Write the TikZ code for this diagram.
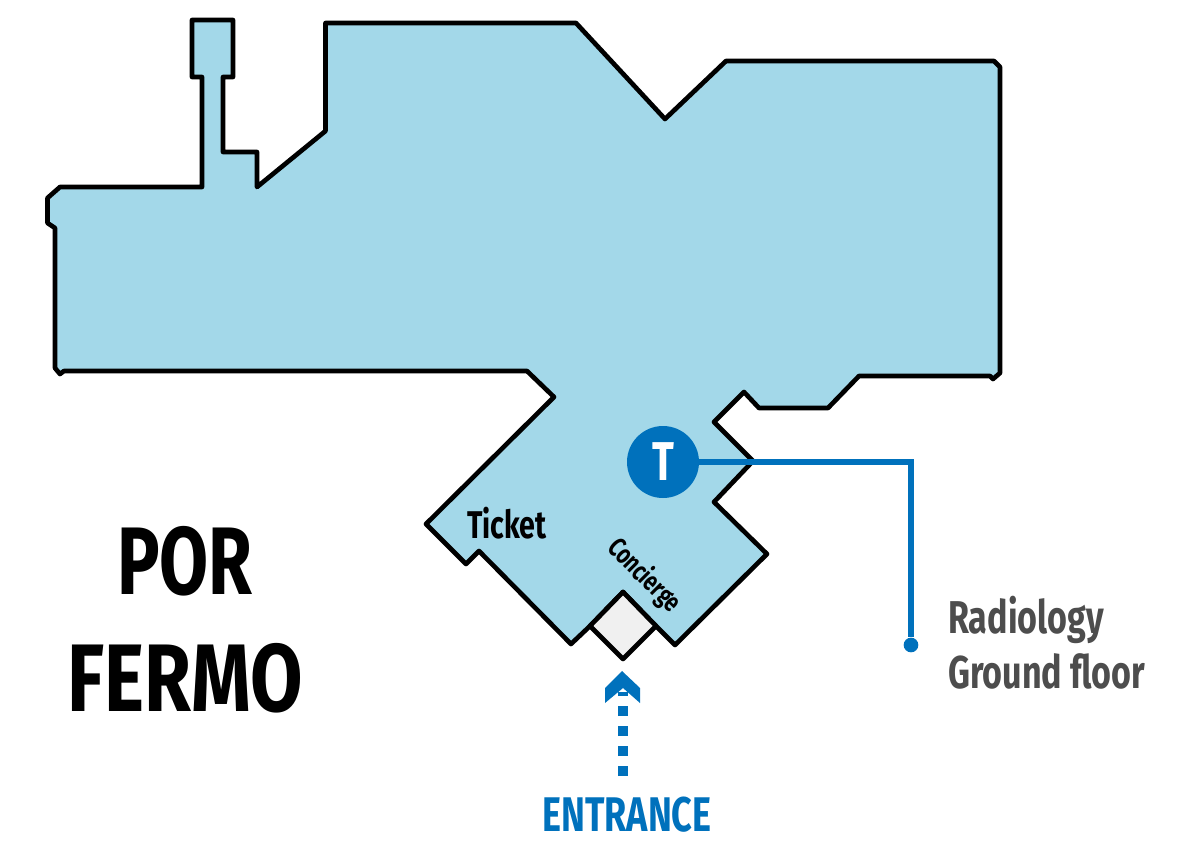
\documentclass[tikz,border=0pt]{standalone}
\usepackage{fontspec}
\setmainfont[FakeStretch=0.74]{Fira Sans}
\usetikzlibrary{positioning}
\definecolor{floorblue}{HTML}{A3D8E9}
\definecolor{markblue}{HTML}{0071BC}
\definecolor{doorgrey}{HTML}{F0F0F0}
\definecolor{notegrey}{HTML}{4D4D4D}
\tikzset{
	wall/.style={draw=black, line width=3.5pt, line join=round},
	leader/.style={draw=markblue, line width=3.8pt},
	bigtext/.style={inner sep=0, anchor=base, font=\bfseries\fontsize{72}{72}\selectfont},
	roomtext/.style={inner sep=0, anchor=base, font=\bfseries\fontsize{29}{29}\selectfont},
	notetext/.style={inner sep=0, anchor=base west, text=notegrey, font=\bfseries\fontsize{34.5}{34.5}\selectfont}
}

\begin{document}
\begin{tikzpicture}[x=0.75pt, y=-0.75pt]
		\useasboundingbox (0, 0) rectangle (1182, 851);
		\draw[wall, fill=floorblue]
		(192, 20) -- (233, 20) -- (233, 77) -- (223, 77) -- (223, 152) -- (257, 152) -- (257, 187)
		-- (325.5, 131) -- (325.5, 23) -- (576, 23) -- (665, 119) -- (726, 61) -- (994, 61) -- (1000, 67)
		-- (1000, 373) -- (993, 379) -- (990, 376) -- (859, 376) -- (828, 408) -- (759, 408)
		-- (744, 392) -- (714, 422) -- (753, 461) -- (714, 502) -- (767, 554) -- (675, 645)
		-- (656, 626) -- (623, 592) -- (590, 626) -- (571, 644) -- (479, 551) -- (466, 564)
		-- (426, 524) -- (554, 397) -- (527, 371) -- (64, 371) -- (60, 374) -- (55, 368)
		-- (55, 228) -- (47.5, 223) -- (47.5, 198) -- (60, 187) -- (202, 187) -- (202, 77) -- (192, 77) -- cycle;
		\draw[wall, fill=doorgrey] (623, 592) -- (656, 626) -- (623, 659) -- (590, 626) -- cycle;
		\node[circle, fill=markblue, minimum size=54pt, inner sep=0, text=white, font=\bfseries\fontsize{41}{41}\selectfont] (lift) at (663, 462) {T};
		\node[circle, fill=markblue, minimum size=11pt, inner sep=0] (radiology_dot) at (911, 645) {};
		\draw[leader] (lift) -| (radiology_dot);
		\node[roomtext] (ticket) at (507, 538) {Ticket};
		\node[inner sep=0, rotate=-45, font=\bfseries\fontsize{20.5}{20.5}\selectfont] (concierge) at (644, 576) {Concierge};
		\node[notetext] (radiology) at (948, 633) {Radiology};
		\node[notetext] (ground) at (948, 688) {Ground floor};
		\node[bigtext] (por) at (185, 594) {POR};
		\node[bigtext] (fermo) at (185, 711) {\scalebox{1.07}[1]{FERMO}};
		\node[inner sep=0, anchor=base, text=markblue, font=\bfseries\fontsize{36.5}{36.5}\selectfont] (entrance) at (627, 831) {ENTRANCE};
		\coordinate (walk_start) at (623, 776);
		\coordinate (walk_end) at (623, 692);
		\draw[markblue, line width=7.5pt, dash pattern=on 7.5pt off 7.5pt] (walk_start) -- (walk_end);
		\fill[markblue] (622, 671) -- (640, 688) -- (640, 703) -- (623, 688) -- (605, 703) -- (605, 688) -- cycle;
		\end{tikzpicture}
\end{document}
